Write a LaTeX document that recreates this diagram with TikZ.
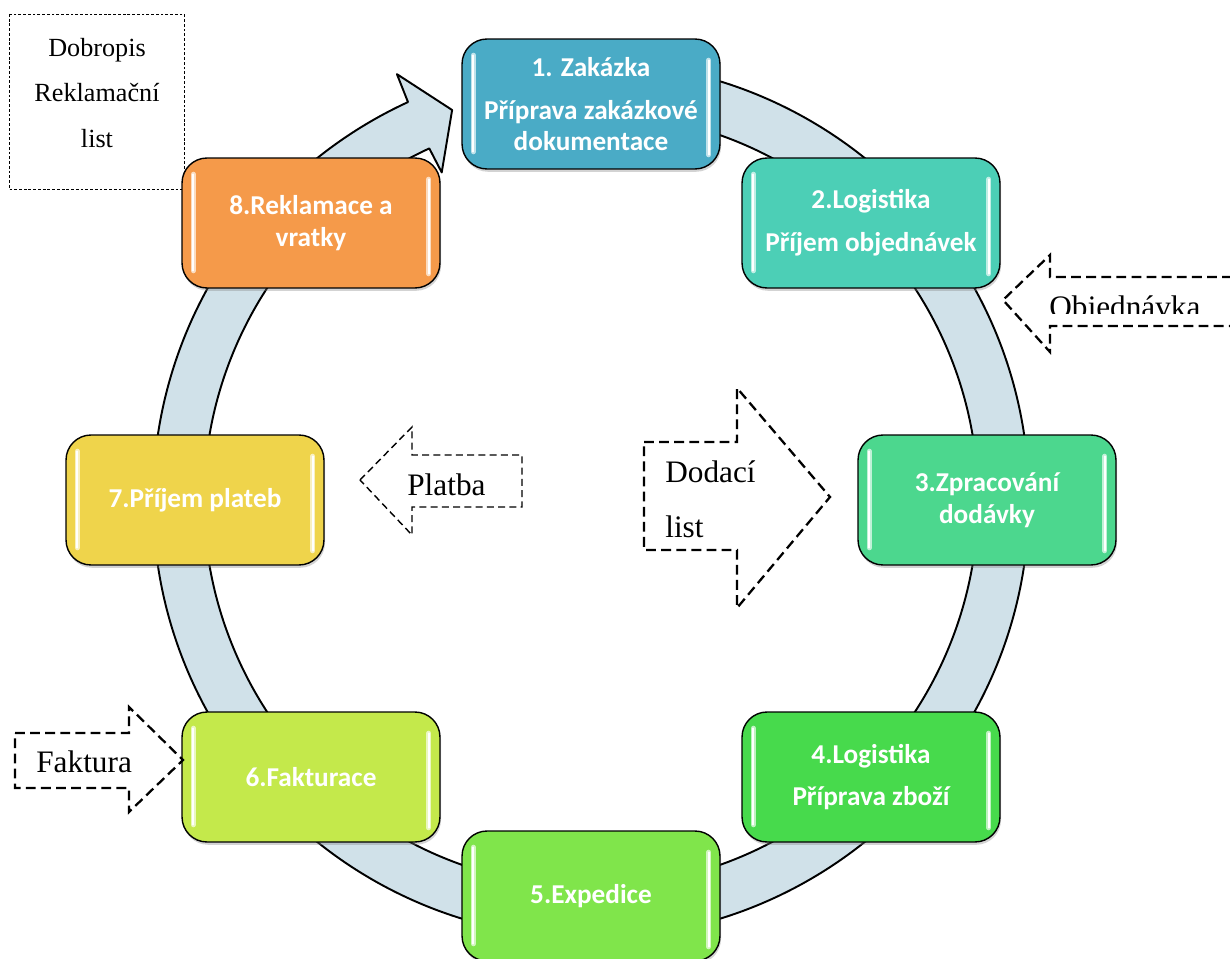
\documentclass[tikz,border=0pt]{standalone}
\usepackage{fontspec}
\setmainfont{Liberation Serif}
\newfontfamily\stagefont{Carlito}
\usetikzlibrary{shadows}

% stage colours
\definecolor{cOne}{HTML}{4AABC6}
\definecolor{cTwo}{HTML}{4CCFB6}
\definecolor{cThree}{HTML}{4CD78E}
\definecolor{cFour}{HTML}{47DA4C}
\definecolor{cFive}{HTML}{80E54B}
\definecolor{cSix}{HTML}{C4E94B}
\definecolor{cSeven}{HTML}{EFD44B}
\definecolor{cEight}{HTML}{F59A4A}
\definecolor{ringfill}{HTML}{D0E1E9}

\tikzset{
  stagebox/.style={draw=black, line width=0.8pt, fill=#1,
    rounded corners=0.5cm, minimum width=5.16cm, minimum height=2.6cm,
    text=white, align=center, inner sep=2pt,
    font=\stagefont\bfseries\fontsize{15.5pt}{18pt}\selectfont,
    drop shadow={opacity=0.35, shadow xshift=0.6pt, shadow yshift=-1.6pt}},
  ringarrow/.style={draw=black, line width=1.1pt, fill=ringfill, line join=round},
  docarrow/.style={draw=black, fill=white, line width=1.3pt, dash pattern=on 5.6pt off 3pt},
  thinarrow/.style={draw=black, fill=white, line width=0.8pt, dash pattern=on 4pt off 2.4pt},
  doclabel/.style={font=\fontsize{17.8pt}{31pt}\selectfont, inner sep=0pt},
  glowline/.style={line width=3pt, #1!35!white, line cap=round},
  shineline/.style={line width=1.2pt, white, line cap=round},
}

\begin{document}
\begin{tikzpicture}[x=0.02cm, y=0.02cm]
\useasboundingbox (0,0) rectangle (1230,-959);

% circular process arrow
\draw[ringarrow, shift={(591,-500)}]
  (90:438) arc[start angle=90, end angle=-245.3, radius=438]
  -- (-245.5:468) -- (-250.4:414) -- (-245.5:360) -- (-245.3:387)
  arc[start angle=-245.3, end angle=90, radius=387] -- cycle;

% credit note / complaint form
\draw[line width=0.5pt, dash pattern=on 1.6pt off 1.1pt] (9,-14) rectangle (184,-189);
\node[font=\fontsize{14.9pt}{26pt}\selectfont, align=center] (dobropis) at (97,-93)
  {Dobropis\\Reklamační\\list};

% process stages
\node[stagebox=cOne] (s1) at (591,-104) {1. Zakázka\\[6.4pt]Příprava zakázkové\\dokumentace};
\node[stagebox=cTwo] (s2) at (871,-223) {2.Logistika\\[6.4pt]Příjem objednávek};
\node[stagebox=cThree] (s3) at (987,-500) {3.Zpracování\\dodávky};
\node[stagebox=cFour] (s4) at (871,-777) {4.Logistika\\[6.4pt]Příprava zboží};
\node[stagebox=cFive] (s5) at (591,-896) {5.Expedice};
\node[stagebox=cSix] (s6) at (311,-777) {6.Fakturace};
\node[stagebox=cSeven] (s7) at (195,-500) {7.Příjem plateb};
\node[stagebox=cEight] (s8) at (311,-223) {8.Reklamace a\\vratky};

% glossy side highlights
\foreach \n/\c in {s1/cOne, s2/cTwo, s3/cThree, s4/cFour, s5/cFive, s6/cSix, s7/cSeven, s8/cEight}{
  \draw[glowline=\c] ([shift={(12,-17)}]\n.north west) -- ([shift={(12,18)}]\n.south west);
  \draw[glowline=\c] ([shift={(-12,-22)}]\n.north east) -- ([shift={(-12,15)}]\n.south east);
  \draw[shineline] ([shift={(12,-17)}]\n.north west) -- ([shift={(12,18)}]\n.south west);
  \draw[shineline] ([shift={(-12,-22)}]\n.north east) -- ([shift={(-12,15)}]\n.south east);
}

% incoming order
\draw[docarrow] (1232,-277) -- (1050,-277) -- (1050,-255) -- (1003,-300)
  -- (1050,-352) -- (1050,-326) -- (1232,-326);
\begin{scope}
  \clip (1040,-262) rectangle (1232,-314);
  \node[doclabel, anchor=base west] (objednavka) at (1049,-317) {Objednávka};
\end{scope}

% delivery note
\draw[docarrow] (644,-442) -- (737,-442) -- (737,-388) -- (830,-497)
  -- (737,-608) -- (737,-550) -- (644,-550) -- cycle;
\node[doclabel, anchor=base west] (dodaci) at (665,-482) {Dodací};
\node[doclabel, anchor=base west] (list) at (665,-537) {list};

% payment
\draw[thinarrow] (360,-480) -- (412,-427) -- (412,-455) -- (522,-455)
  -- (522,-507) -- (412,-507) -- (412,-535) -- cycle;
\node[doclabel, anchor=base west] (platba) at (407,-495) {Platba};

% invoice
\draw[docarrow] (15,-733) -- (129,-733) -- (129,-707) -- (183,-760)
  -- (129,-812) -- (129,-788) -- (15,-788) -- cycle;
\node[doclabel, anchor=base west] (faktura) at (36,-772) {Faktura};
\end{tikzpicture}
\end{document}
